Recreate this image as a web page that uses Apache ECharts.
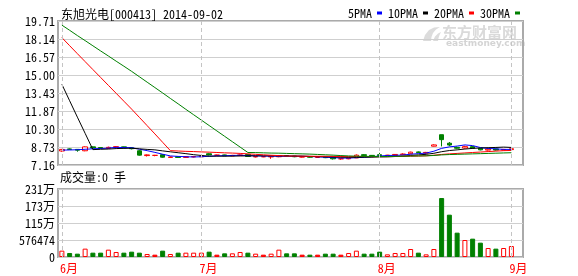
<!DOCTYPE html>
<html><head><meta charset="utf-8">
<script src="https://cdn.jsdelivr.net/npm/echarts@6/dist/echarts.min.js"></script>
<style>html,body{margin:0;padding:0;background:#fff}#c{width:578px;height:276px}</style>
</head><body><div id="c"></div>
<script>
const titleText = '东旭光电[000413] 2014-09-02';
const volumeText = '成交量:0 手';
const dates = [
 '2014-06-05','2014-06-06','2014-06-09','2014-06-10','2014-06-11','2014-06-12','2014-06-13','2014-06-16','2014-06-17','2014-06-18',
 '2014-06-19','2014-06-20','2014-06-23','2014-06-24','2014-06-25','2014-06-26','2014-06-27','2014-06-30',
 '2014-07-01','2014-07-02','2014-07-03','2014-07-04','2014-07-07','2014-07-08','2014-07-09','2014-07-10','2014-07-11',
 '2014-07-14','2014-07-15','2014-07-16','2014-07-17','2014-07-18','2014-07-21','2014-07-22','2014-07-23','2014-07-24',
 '2014-07-25','2014-07-28','2014-07-29','2014-07-30','2014-07-31',
 '2014-08-01','2014-08-04','2014-08-05','2014-08-06','2014-08-07','2014-08-08','2014-08-11','2014-08-18','2014-08-19',
 '2014-08-20','2014-08-21','2014-08-22','2014-08-25','2014-08-26','2014-08-27','2014-08-28','2014-08-29',
 '2014-09-01','2014-09-02'
];
const monthStarts = ['2014-06-05','2014-07-01','2014-08-01','2014-09-01'];
const monthNames = ['6月','7月','8月','9月'];

const opens  = [8.38,8.56,8.52,8.40,8.74,8.68,8.62,8.70,8.74,8.66, 8.40,7.98,8.00,8.06,7.82,7.88,7.82,7.86,7.88,8.14,
                8.02,8.04,7.96,7.98,8.08,7.86,7.88,7.86,7.88,7.98, 7.94,7.86,7.88,7.82,7.84,7.86,7.70,7.70,7.78,8.06,
                8.00,8.06,7.98,8.00,8.06,8.14,8.30,8.20,8.80,9.80, 9.06,8.70,8.64,8.76,8.62,8.46,8.56,8.46,8.50];
const closes = [8.52,8.52,8.45,8.74,8.64,8.64,8.70,8.76,8.66,8.58, 8.02,8.04,8.00,7.84,7.86,7.82,7.88,7.90,7.94,8.04,
                8.02,7.96,8.00,8.04,7.90,7.90,7.88,7.92,7.98,7.94, 7.88,7.86,7.84,7.82,7.80,7.70,7.70,7.76,8.02,7.98,
                7.96,7.98,8.02,8.08,8.12,8.28,8.24,8.26,8.91,9.37, 8.90,8.62,8.76,8.62,8.48,8.54,8.46,8.52,8.58];
const lows   = [8.32,8.48,8.32,8.36,8.60,8.60,8.58,8.66,8.62,8.52, 7.98,7.90,7.92,7.80,7.78,7.78,7.78,7.82,7.84,8.00,
                7.98,7.92,7.92,7.94,7.86,7.82,7.84,7.70,7.84,7.90, 7.84,7.82,7.80,7.78,7.76,7.64,7.62,7.66,7.76,7.94,
                7.92,7.96,7.94,7.98,8.02,8.10,8.20,8.16,8.78,8.78, 8.80,8.58,8.60,8.58,8.44,8.42,8.42,8.44,8.46];
const highs  = [8.56,8.60,8.54,8.78,8.78,8.72,8.76,8.80,8.76,8.68, 8.46,8.08,8.04,8.08,7.90,7.92,7.92,7.94,7.98,8.18,
                8.06,8.06,8.04,8.08,8.10,7.94,7.92,7.94,8.02,8.00, 7.96,7.90,7.90,7.86,7.86,7.88,7.74,7.80,8.08,8.10,
                8.02,8.22,8.04,8.12,8.18,8.32,8.34,8.30,8.96,9.80, 9.16,8.76,8.84,8.80,8.64,8.58,8.58,8.56,8.62];
const volumes = [215000,136000,113000,283000,147000,147000,249000,170000,147000,181000,
                 147000,102000,79000,215000,102000,147000,147000,147000,147000,181000,
                 79000,124000,124000,170000,147000,113000,79000,113000,249000,124000,
                 124000,79000,79000,79000,113000,113000,79000,136000,215000,113000,
                 113000,181000,90000,136000,136000,271000,147000,90000,271000,2000000,
                 1435000,825000,576000,622000,486000,305000,283000,305000,373000];
const ma5  = [8.46,8.47,8.49,8.53,8.57,8.60,8.63,8.70,8.68,8.67, 8.54,8.41,8.26,8.10,7.95,7.91,7.88,7.86,7.88,7.92,
              7.96,7.97,7.99,8.01,7.98,7.96,7.94,7.93,7.92,7.92, 7.92,7.92,7.90,7.87,7.84,7.80,7.77,7.76,7.80,7.83,
              7.88,7.94,7.99,8.00,8.03,8.10,8.15,8.20,8.36,8.61, 8.74,8.81,8.91,8.85,8.68,8.60,8.57,8.52,8.52];
const ma10 = [14.19,12.76,11.33,9.92,8.50,8.53,8.55,8.59,8.61,8.62, 8.57,8.52,8.48,8.39,8.31,8.23,8.15,8.06,7.99,7.93,
              7.93,7.93,7.93,7.95,7.95,7.96,7.96,7.96,7.96,7.95, 7.94,7.93,7.91,7.89,7.88,7.86,7.84,7.83,7.83,7.84,
              7.84,7.86,7.87,7.90,7.93,7.99,8.04,8.09,8.18,8.32, 8.42,8.48,8.55,8.61,8.64,8.67,8.69,8.72,8.69];
const ma20 = [18.26,17.56,16.86,16.17,15.48,14.79,14.10,13.41,12.72,12.03, 11.31,10.59,9.87,9.14,8.41,8.38,8.35,8.33,8.30,8.28,
              8.25,8.22,8.20,8.17,8.13,8.09,8.05,8.01,7.98,7.94, 7.94,7.93,7.92,7.92,7.92,7.91,7.90,7.89,7.90,7.90,
              7.89,7.89,7.89,7.90,7.91,7.93,7.94,7.96,8.01,8.08, 8.13,8.17,8.21,8.25,8.29,8.33,8.37,8.41,8.43];
const ma30 = [19.35,18.90,18.44,18.00,17.55,17.10,16.66,16.21,15.77,15.32, 14.85,14.38,13.91,13.44,12.96,12.49,12.01,11.54,11.07,10.60,
              10.13,9.66,9.19,8.72,8.25,8.24,8.22,8.20,8.19,8.17, 8.15,8.13,8.11,8.08,8.05,8.02,7.98,7.95,7.93,7.91,
              7.91,7.90,7.90,7.91,7.92,7.94,7.95,7.96,7.99,8.04, 8.07,8.09,8.11,8.13,8.15,8.17,8.19,8.21,8.23];
const maNames = ['5PMA','10PMA','20PMA','30PMA'];
const priceTicks = [7.16,8.73,10.30,11.87,13.43,15.00,16.57,18.14,19.71];
const priceTickLabels = ['7.16','8.73','10.30','11.87','13.43','15.00','16.57','18.14','19.71'];
const volTicks = [0,576474,1152948,1729422,2305896];
const volTickLabels = ['0','576474','115万','173万','231万'];

const FONT = "'Noto Sans Mono CJK SC','DejaVu Sans Mono',monospace";
const RED = '#ff0000', GREEN = '#008000', GRIDC = '#cfcfcf', BORDER = '#aaaaaa';
const lookup = (ticks, labels) => v => { const i = ticks.findIndex(t => Math.abs(t - v) < 1e-6); return i >= 0 ? labels[i] : ''; };

const candleData = closes.map((c, i) => [opens[i], c, lows[i], highs[i]]);
const volData = volumes.map((v, i) => {
  const up = closes[i] > opens[i], dn = closes[i] < opens[i];
  return { value: v, itemStyle: up ? { color: '#ffffff', borderColor: RED, borderWidth: 1 }
                              : dn ? { color: GREEN, borderColor: GREEN, borderWidth: 1 }
                                   : { color: RED, borderColor: RED, borderWidth: 1 } };
});
const monthMark = {
  symbol: 'none', silent: true, animation: false, label: { show: false },
  lineStyle: { color: '#c4c4c4', type: [4, 3], width: 1 },
  data: monthStarts.map(d => ({ xAxis: d }))
};
const maColors = ['#0000ff', '#000000', RED, GREEN];
const maData = [ma5, ma10, ma20, ma30];

const chart = echarts.init(document.getElementById('c'), null, { renderer: 'canvas' });
chart.setOption({
  animation: false,
  backgroundColor: '#ffffff',
  textStyle: { fontFamily: FONT },
  grid: [
    { left: 58, right: 55, top: 21, height: 144, show: true, borderColor: BORDER, borderWidth: 2, backgroundColor: 'transparent' },
    { left: 58, right: 55, top: 189, height: 68, show: true, borderColor: BORDER, borderWidth: 2, backgroundColor: 'transparent' }
  ],
  legend: {
    data: maNames, right: 58, top: 7, align: 'right', icon: 'rect', itemWidth: 5, itemHeight: 3, itemGap: 6,
    selectedMode: false, padding: 0,
    textStyle: { fontSize: 12, fontFamily: FONT, color: '#000' }
  },
  xAxis: [
    { type: 'category', gridIndex: 0, data: dates, boundaryGap: true,
      axisLine: { show: false }, axisTick: { show: false }, axisLabel: { show: false }, splitLine: { show: false } },
    { type: 'category', gridIndex: 1, data: dates, boundaryGap: true,
      axisLine: { show: false }, axisTick: { show: false }, splitLine: { show: false },
      axisLabel: { show: true, interval: (i, v) => monthStarts.includes(v),
        formatter: v => monthNames[monthStarts.indexOf(v)] || '',
        color: RED, fontSize: 12, fontFamily: FONT, margin: 5, align: 'left', padding: [0, 0, 0, -2] } }
  ],
  yAxis: [
    { type: 'value', gridIndex: 0, min: 7.16, max: 19.71, scale: true,
      axisLine: { show: false }, axisTick: { show: false, customValues: priceTicks },
      axisLabel: { customValues: priceTicks, formatter: lookup(priceTicks, priceTickLabels), color: '#000', fontSize: 12, fontFamily: FONT, margin: 3 },
      splitLine: { show: true, lineStyle: { color: GRIDC, width: 1 } } },
    { type: 'value', gridIndex: 1, min: 0, max: 2305896, interval: 576474,
      axisLine: { show: false }, axisTick: { show: false },
      axisLabel: { formatter: lookup(volTicks, volTickLabels), color: '#000', fontSize: 12, fontFamily: FONT, margin: 3, showMinLabel: true, showMaxLabel: true },
      splitLine: { show: true, lineStyle: { color: GRIDC, width: 1 } } }
  ],
  series: [
    { type: 'candlestick', name: 'K', xAxisIndex: 0, yAxisIndex: 0, data: candleData, barWidth: 5, z: 3,
      itemStyle: { color: '#ffffff', color0: GREEN, borderColor: RED, borderColor0: GREEN, borderColorDoji: RED, borderWidth: 1 },
      markLine: monthMark },
    ...maNames.map((n, k) => ({
      type: 'line', name: n, xAxisIndex: 0, yAxisIndex: 0, data: maData[k], symbol: 'none', showSymbol: false, z: 4,
      lineStyle: { color: maColors[k], width: 1 }, itemStyle: { color: maColors[k] }
    })),
    { type: 'bar', name: 'VOL', xAxisIndex: 1, yAxisIndex: 1, data: volData, barWidth: 5, markLine: monthMark }
  ],
  graphic: [
    { type: 'text', left: 61, top: 8, z: 10, style: { text: titleText, font: '12px ' + FONT, fill: '#000' } },
    { type: 'text', left: 60, top: 171, z: 10, style: { text: volumeText, font: '12px ' + FONT, fill: '#000' } },
    { type: 'polygon', z: -1, shape: { points: [[423,41],[425,35],[429,30],[434,27.5],[440,27],[436,29.5],[433,33],[431.5,37],[431,41]] },
      style: { fill: '#dcdcdc' } },
    { type: 'polygon', z: -1, shape: { points: [[433,41],[435,36.5],[438,33.5],[441,32],[439.5,35],[438.5,38],[438,41]] },
      style: { fill: '#dcdcdc' } },
    { type: 'text', left: 442, top: 25, z: -1, style: { text: '东方财富网', font: 'bold 15px "Noto Sans CJK SC"', fill: '#dadada' } },
    { type: 'text', left: 446, top: 39, z: -1, style: { text: 'eastmoney.com', font: 'bold 9px "DejaVu Sans"', fill: '#d4d4d4' } }
  ]
});
</script>
</body></html>
